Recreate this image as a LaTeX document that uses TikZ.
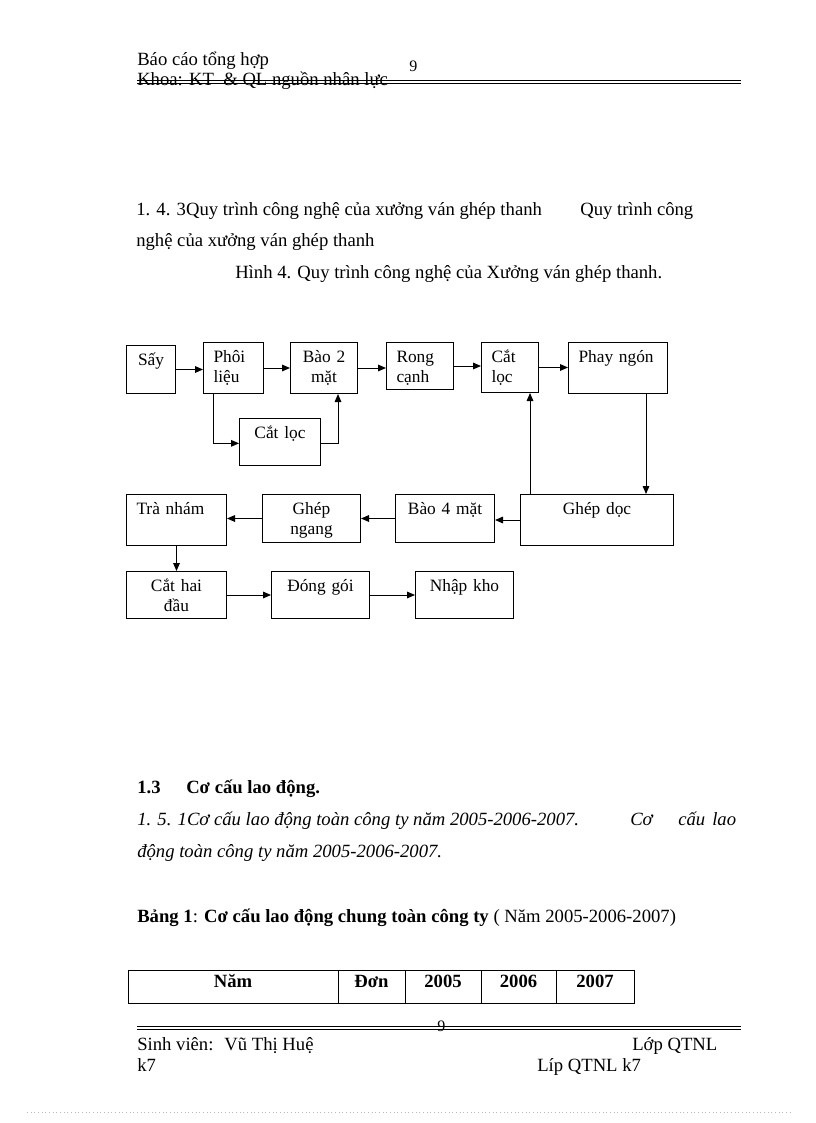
\documentclass[tikz,border=0pt]{standalone}
\usepackage{fontspec}
\setmainfont{Liberation Serif}
\usetikzlibrary{arrows.meta,calc,positioning}
\definecolor{PageInk}{HTML}{000000}
\definecolor{PageDots}{HTML}{B8B8B8}
\tikzset{
  every node/.style={font=\fontsize{14}{16}\selectfont, text=PageInk, inner sep=0pt},
  body/.style={anchor=base west},
  bold/.style={font=\fontsize{14}{16}\selectfont\bfseries},
  slant/.style={font=\fontsize{14}{16}\selectfont\itshape},
  folio/.style={anchor=base west, font=\fontsize{12}{14}\selectfont},
  stage/.style 2 args={draw=PageInk, line width=0.75pt, anchor=north west, inner xsep=7.5pt, inner ysep=0pt,
    text width={(#1)*0.75pt-15pt}, text height=15pt, text depth={(#2)*0.75pt-15pt},
    font=\fontsize{13}{15}\selectfont},
  cell/.style={draw=PageInk, line width=0.75pt, anchor=north west, inner xsep=0pt, inner ysep=0pt, outer sep=0pt,
    align=center, text width={(#1)*0.75pt}, text height=12.75pt, text depth=12pt,
    font=\fontsize{14}{16}\selectfont\bfseries},
  flow/.style={-{Triangle[length=6pt,width=5pt]}, draw=PageInk, line width=0.75pt},
  hrule/.style={draw=PageInk, line width=0.75pt},
}
\begin{document}
\begin{tikzpicture}[x=0.75pt,y=-0.75pt]
  \useasboundingbox (0,0) rectangle (816,1123);
  % Running head
  \node[body] (head) at (137,66) {Báo cáo tổng hợp};
  \node[body] (dept) at (137,86) {Khoa: KT~ \& QL nguồn nhân lực};
  \node[folio] (pgtop) at (409,72) {9};
  \draw[hrule] (137,80.5) -- (741,80.5);
  \draw[hrule] (137,84) -- (741,84);

  % Section heading and caption
  \node[body] (sec) at (136,215) {1. 4. 3Quy trình công nghệ của xưởng ván ghép thanh};
  \node[body] (secb) at (580,215) {Quy trình công};
  \node[body] (secc) at (136,246) {nghệ của xưởng ván ghép thanh};
  \node[body] (cap) at (235,278) {Hình 4. Quy trình công nghệ của Xưởng ván ghép thanh.};

  % Process boxes, first row
  \node[stage={49}{48}, align=center] (say) at (126,345) {Sấy};
  \node[stage={60}{51}, align=left] (phoi) at (203,342) {Phôi\\liệu};
  \node[stage={67}{51}, align=center] (bao2) at (290,342) {Bào 2\\mặt};
  \node[stage={67}{47}, align=left] (rong) at (386,342) {Rong\\cạnh};
  \node[stage={57}{50}, align=left] (catloc) at (481,342) {Cắt\\lọc};
  \node[stage={99}{51}, align=left] (phay) at (568,342) {Phay ngón};
  \node[stage={81}{47}, align=center] (catloc2) at (239,418) {Cắt lọc};
  % second row
  \node[stage={100}{51}, align=left] (tra) at (126,494) {Trà nhám};
  \node[stage={98}{48}, align=center] (ghepngang) at (262,494) {Ghép\\ngang};
  \node[stage={99}{48}, align=center] (bao4) at (395,494) {Bào 4 mặt};
  \node[stage={153}{51}, align=center] (ghepdoc) at (520,494) {Ghép dọc};
  % third row
  \node[stage={100}{47}, align=center] (cathai) at (126,571) {Cắt hai\\đầu};
  \node[stage={98}{47}, align=center] (donggoi) at (271,571) {Đóng gói};
  \node[stage={98}{47}, align=center] (nhapkho) at (415,571) {Nhập kho};

  % Flow
  \draw[flow] (say.east) -- (say.east -| phoi.west);
  \draw[flow] (phoi.east) -- (phoi.east -| bao2.west);
  \draw[flow] (bao2.east) -- (bao2.east -| rong.west);
  \draw[flow] (rong.east) -- (rong.east -| catloc.west);
  \draw[flow] (catloc.east) -- (catloc.east -| phay.west);
  \coordinate (phoiTap) at ([xshift=7.5pt]phoi.south west);
  \coordinate (bao2Tap) at ([xshift=36pt]bao2.south west);
  \draw[flow] (phoiTap) |- ([yshift=-1pt]catloc2.west);
  \draw[flow] ([yshift=-1pt]catloc2.east) -| (bao2Tap);
  \coordinate (phayTap) at ([xshift=-16.5pt]phay.south east);
  \coordinate (docTap) at ([xshift=7.5pt]ghepdoc.north west);
  \draw[flow] (phayTap) -- (phayTap |- ghepdoc.north);
  \draw[flow] (docTap) -- (docTap |- catloc.south);
  \draw[flow] (ghepdoc.west) -- (ghepdoc.west -| bao4.east);
  \draw[flow] (bao4.west) -- (bao4.west -| ghepngang.east);
  \draw[flow] (ghepngang.west) -- (ghepngang.west -| tra.east);
  \draw[flow] (tra.south) -- (tra.south |- cathai.north);
  \draw[flow] (cathai.east) -- (cathai.east -| donggoi.west);
  \draw[flow] (donggoi.east) -- (donggoi.east -| nhapkho.west);

  % Section 1.3
  \node[body, bold] (sub) at (137,793) {1.3};
  \node[body, bold] (subt) at (186,793) {Cơ cấu lao động.};
  \node[body, slant] (it1) at (137,825) {1. 5. 1Cơ cấu lao động toàn công ty năm 2005-2006-2007.};
  \node[body, slant] (it1a) at (630,825) {Cơ};
  \node[body, slant] (it1b) at (678,825) {cấu};
  \node[body, slant] (it1c) at (712,825) {lao};
  \node[body, slant] (it2) at (137,857) {động toàn công ty năm 2005-2006-2007.};
  \node[body] (tabcap) at (137,922) {\textbf{Bảng 1}: \textbf{Cơ cấu lao động chung toàn công ty} ( Năm 2005-2006-2007)};

  % Table head
  \node[cell=210] (nam) at (128,970) {Năm};
  \node[cell=67] (don) at (nam.north east) {Đơn};
  \node[cell=76] (y05) at (don.north east) {2005};
  \node[cell=75] (y06) at (y05.north east) {2006};
  \node[cell=78] (y07) at (y06.north east) {2007};

  % Running foot
  \draw[hrule] (137,1026) -- (741,1026);
  \draw[hrule] (137,1029.5) -- (741,1029.5);
  \node[folio] (pgbot) at (437,1031) {9};
  \node[body] (stud) at (137,1050) {Sinh viên: ~Vũ Thị Huệ};
  \node[body] (cls) at (632,1050) {Lớp QTNL};
  \node[body] (k7) at (137,1071) {k7};
  \node[body] (cls2) at (537,1071) {Líp QTNL k7};
  \draw[PageDots, dotted, line width=0.75pt] (27,1112) -- (792,1112);
\end{tikzpicture}
\end{document}
